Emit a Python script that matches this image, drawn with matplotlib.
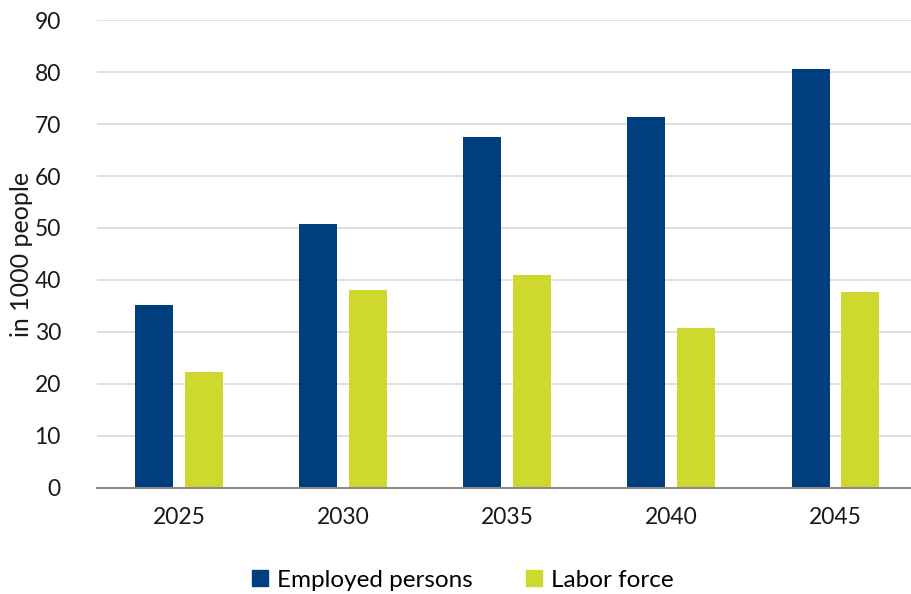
import matplotlib
matplotlib.use("Agg")
import matplotlib.pyplot as plt
import numpy as np
from matplotlib.patches import Patch

years = ["2025", "2030", "2035", "2040", "2045"]
employed = [35.2, 50.8, 67.5, 71.3, 80.6]
labor_force = [22.3, 38.1, 41.0, 30.7, 37.6]

navy = "#003F7D"
lime = "#CFD82E"

plt.rcParams["font.family"] = ["Lato", "DejaVu Sans"]

fig = plt.figure(figsize=(9.11, 5.94), dpi=100)
ax = fig.add_axes([0.1065, 0.1785, 0.9007, 0.7878])

x = np.arange(len(years))
w = 0.232
ax.bar(x - 0.152, employed, w, color=navy, zorder=3, label="Employed persons")
ax.bar(x + 0.152, labor_force, w, color=lime, zorder=3, label="Labor force")

ax.set_xlim(-0.5, 4.5)
ax.set_ylim(0, 90)
ax.set_yticks(range(0, 91, 10))
ax.set_xticks(x)
ax.set_xticklabels(years)
ax.tick_params(axis="both", length=0, labelsize=16.5, colors="#1a1a1a")
ax.tick_params(axis="y", pad=26)
ax.tick_params(axis="x", pad=14)

ax.grid(axis="y", color="#D9D9D9", linewidth=1.2, zorder=0)
for side in ["top", "right", "left"]:
    ax.spines[side].set_visible(False)
ax.spines["bottom"].set_color("#898989")
ax.spines["bottom"].set_linewidth(1.5)
ax.spines["bottom"].set_zorder(4)

fig.text(0.024, 0.571, "in 1000 people", rotation=90, ha="center", va="center",
         fontsize=18, color="#1a1a1a")

handles = [Patch(color=navy), Patch(color=lime)]
fig.legend(handles, ["Employed persons", "Labor force"], loc="center",
           bbox_to_anchor=(0.508, 0.023), ncol=2, frameon=False, fontsize=17.5,
           handlelength=0.66, handleheight=0.66, handletextpad=0.35,
           columnspacing=2.2)

fig.savefig("out.png", dpi=100)
